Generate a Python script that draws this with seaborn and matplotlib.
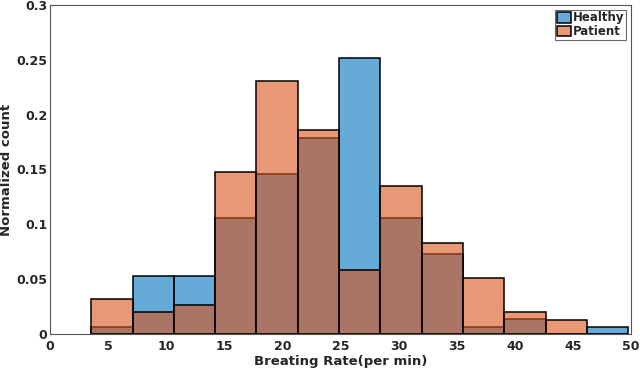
import numpy as np
import matplotlib
matplotlib.use('Agg')
import matplotlib.pyplot as plt
import seaborn as sns

# bin edges of the histogram (breathing rate, per min)
bin_edges = [3.55 + 3.556 * k for k in range(14)]
bin_centers = [(a + b) / 2 for a, b in zip(bin_edges[:-1], bin_edges[1:])]

# normalized counts
healthy = [0.0064, 0.053, 0.053, 0.106, 0.146, 0.179, 0.2515, 0.106, 0.0727, 0.006, 0.0136, 0.0, 0.0064]
patient = [0.0318, 0.020, 0.026, 0.1478, 0.231, 0.186, 0.0579, 0.135, 0.0827, 0.0509, 0.0197, 0.013, 0.0]

x_ticks = [0, 5, 10, 15, 20, 25, 30, 35, 40, 45, 50]
y_ticks = [0, 0.05, 0.1, 0.15, 0.2, 0.25, 0.3]
y_tick_labels = ['0', '0.05', '0.1', '0.15', '0.2', '0.25', '0.3']

sns.set_style('white')
plt.rcParams['font.family'] = ['DejaVu Sans']
plt.rcParams['font.weight'] = 'bold'

fig = plt.figure(figsize=(6.4, 3.69), dpi=100)
ax = fig.add_axes([0.078, 0.095, 0.908, 0.8915])

blue = (0.0, 0.447, 0.741)
orange = (0.85, 0.325, 0.098)

# Healthy drawn first, Patient on top (both semi transparent)
sns.histplot(x=bin_centers, weights=healthy, bins=bin_edges, stat='count',
             color=blue, alpha=0.6, edgecolor='black', linewidth=1.1,
             label='Healthy', ax=ax)
sns.histplot(x=bin_centers, weights=patient, bins=bin_edges, stat='count',
             color=orange, alpha=0.6, edgecolor='black', linewidth=1.1,
             label='Patient', ax=ax)

ax.set_xlim(0, 50)
ax.set_ylim(0, 0.3)
ax.set_xticks(x_ticks)
ax.set_xticklabels([str(t) for t in x_ticks], fontsize=9, fontweight='bold')
ax.set_yticks(y_ticks)
ax.set_yticklabels(y_tick_labels, fontsize=9, fontweight='bold')
ax.tick_params(axis='x', direction='in', length=0, pad=4)
ax.tick_params(axis='y', direction='in', length=0, pad=2)
ax.set_xlabel('Breating Rate(per min)', fontsize=9.5, fontweight='bold', labelpad=2)
ax.set_ylabel('Normalized count', fontsize=9.5, fontweight='bold', labelpad=2)

for s in ax.spines.values():
    s.set_color('#555555')
    s.set_linewidth(0.8)

leg = ax.legend(loc='upper right', fontsize=8.5, frameon=True, fancybox=False,
                handlelength=1.2, handleheight=1.0, handletextpad=0.2,
                borderpad=0.15, labelspacing=0.05, borderaxespad=0.4)
leg.get_frame().set_edgecolor('#444444')
leg.get_frame().set_linewidth(0.8)
for t in leg.get_texts():
    t.set_fontweight('bold')

plt.savefig('out.png', dpi=100)
